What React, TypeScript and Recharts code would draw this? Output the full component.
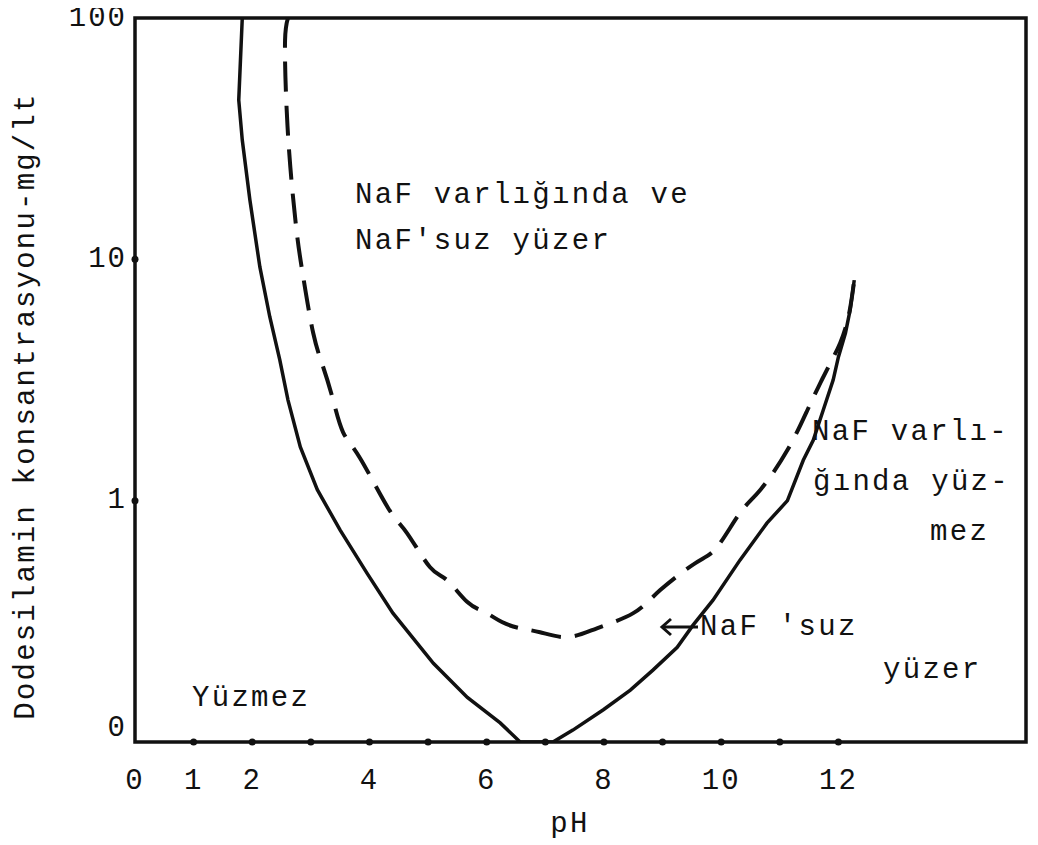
import { LineChart, Line, XAxis, YAxis, ReferenceArea, ReferenceDot } from "recharts";

// pH axis
const phTicks = [0, 1, 2, 4, 6, 8, 10, 12];
const phMarks = [1, 2, 3, 4, 5, 6, 7, 8, 9, 10, 11, 12];

// concentration axis (log), bottom line is labelled "0"
const concTicks = [0.1, 1, 10, 100];
const concMarks = [1, 10];

// solid curve: NaF'suz limit
const solidPH = [1.83, 1.77, 1.83, 1.96, 2.13, 2.3, 2.47, 2.61, 2.82, 3.11, 3.5, 3.96, 4.4, 5.09, 5.67, 6.23, 6.57, 7.13, 7.47, 7.99, 8.45, 8.84, 9.25, 9.52, 9.86, 10.32, 10.78, 11.13, 11.4, 11.57, 11.74, 11.91, 12.0, 12.12, 12.2, 12.27];
const solidConc = [100, 45.7, 31.2, 17.6, 9.3, 5.77, 3.83, 2.61, 1.67, 1.11, 0.755, 0.5, 0.342, 0.212, 0.153, 0.12, 0.1, 0.1, 0.112, 0.136, 0.164, 0.199, 0.247, 0.305, 0.387, 0.567, 0.807, 1.0, 1.47, 1.78, 2.37, 3.16, 3.94, 4.95, 6.17, 8.2];

// dashed curve: NaF varlığında limit
const dashPH = [2.61, 2.56, 2.58, 2.65, 2.76, 2.87, 3.04, 3.21, 3.38, 3.55, 3.84, 4.32, 4.64, 5.03, 5.32, 5.67, 5.97, 6.26, 6.57, 6.91, 7.37, 7.88, 8.5, 8.96, 9.56, 9.93, 10.32, 10.67, 11.13, 11.47, 11.69, 11.89, 12.03, 12.17, 12.27];
const dashConc = [100, 81, 45.7, 24.1, 12.9, 8.45, 4.95, 3.58, 2.61, 1.92, 1.5, 0.93, 0.734, 0.531, 0.469, 0.38, 0.345, 0.314, 0.296, 0.285, 0.272, 0.296, 0.342, 0.426, 0.551, 0.642, 0.889, 1.11, 1.62, 2.37, 3.07, 3.83, 4.5, 5.77, 8.2];

const solidData = solidPH.map((ph, i) => ({ ph, c: solidConc[i] }));
const dashData = dashPH.map((ph, i) => ({ ph, c: dashConc[i] }));

const typeFont = "'Liberation Mono', 'DejaVu Sans Mono', monospace";
const ink = "#111";

const tickStyle = { fontFamily: typeFont, fontSize: 29, fill: ink, letterSpacing: 2 };

const note = (left: number, top: number): React.CSSProperties => ({
  position: "absolute",
  left,
  top,
  fontFamily: typeFont,
  fontSize: 29,
  lineHeight: "29px",
  letterSpacing: 2.3,
  color: ink,
  whiteSpace: "pre",
});

// y tick: the "0" sits a little above the bottom line, as typed in the original
function ConcTick(props: any) {
  const { x, y, payload } = props;
  const v = payload.value;
  return (
    <text
      x={x}
      y={v === 0.1 ? y - 14 : y}
      textAnchor="end"
      dominantBaseline="central"
      fontFamily={typeFont}
      fontSize={29}
      letterSpacing={2}
      fill={ink}
    >
      {v === 0.1 ? "0" : String(v)}
    </text>
  );
}

export default function App() {
  return (
    <div style={{ position: "relative", width: 1022, height: 840, marginTop: -10, background: "#fff" }}>
      <LineChart width={1022} height={840} margin={{ top: 20, right: 4, left: 0, bottom: 0 }}>
        <XAxis
          type="number"
          dataKey="ph"
          domain={[0, 15.2]}
          ticks={phTicks}
          interval={0}
          allowDataOverflow
          axisLine={false}
          tickLine={false}
          tickSize={0}
          tickMargin={26}
          height={96}
          tick={tickStyle}
        />
        <YAxis
          type="number"
          dataKey="c"
          scale="log"
          domain={[0.1, 100]}
          ticks={concTicks}
          interval={0}
          allowDataOverflow
          axisLine={false}
          tickLine={false}
          tickSize={0}
          tickMargin={8}
          width={127}
          tick={<ConcTick />}
        />

        {/* frame */}
        <ReferenceArea x1={0} x2={15.2} y1={0.1} y2={100} fill="none" stroke={ink} strokeWidth={3.5} />

        {/* small tick dots on the axes */}
        {phMarks.map((p) => (
          <ReferenceDot key={"x" + p} x={p} y={0.1} r={3.5} fill={ink} stroke="none" />
        ))}
        {concMarks.map((c) => (
          <ReferenceDot key={"y" + c} x={0} y={c} r={3.5} fill={ink} stroke="none" />
        ))}

        <Line
          data={solidData}
          dataKey="c"
          type="linear"
          stroke={ink}
          strokeWidth={3.5}
          dot={false}
          activeDot={false}
          isAnimationActive={false}
        />
        <Line
          data={dashData}
          dataKey="c"
          type="natural"
          stroke={ink}
          strokeWidth={4}
          strokeDasharray="30 14"
          dot={false}
          activeDot={false}
          isAnimationActive={false}
        />
      </LineChart>

      {/* axis titles */}
      <div
        style={{
          ...note(18, 408),
          transform: "translate(-50%, -50%) rotate(-90deg)",
          letterSpacing: 2.2,
        }}
      >
        Dodesilamin konsantrasyonu-mg/lt
      </div>
      <div style={{ ...note(562, 812), transform: "translateX(-50%)" }}>pH</div>

      {/* region notes */}
      <div style={note(347, 183)}>NaF varlığında ve</div>
      <div style={note(347, 229)}>NaF'suz yüzer</div>
      <div style={note(804, 420)}>NaF varlı-</div>
      <div style={note(805, 470)}>ğında yüz-</div>
      <div style={note(922, 520)}>mez</div>
      <div style={note(692, 615)}>NaF 'suz</div>
      <div style={note(875, 658)}>yüzer</div>
      <div style={note(184, 686)}>Yüzmez</div>

      <svg width={1022} height={840} style={{ position: "absolute", left: 0, top: 0, pointerEvents: "none" }}>
        <line x1={654} y1={629} x2={690} y2={629} stroke={ink} strokeWidth={3} />
        <polyline points="663,621 654,629 663,637" fill="none" stroke={ink} strokeWidth={3} />
      </svg>
    </div>
  );
}
